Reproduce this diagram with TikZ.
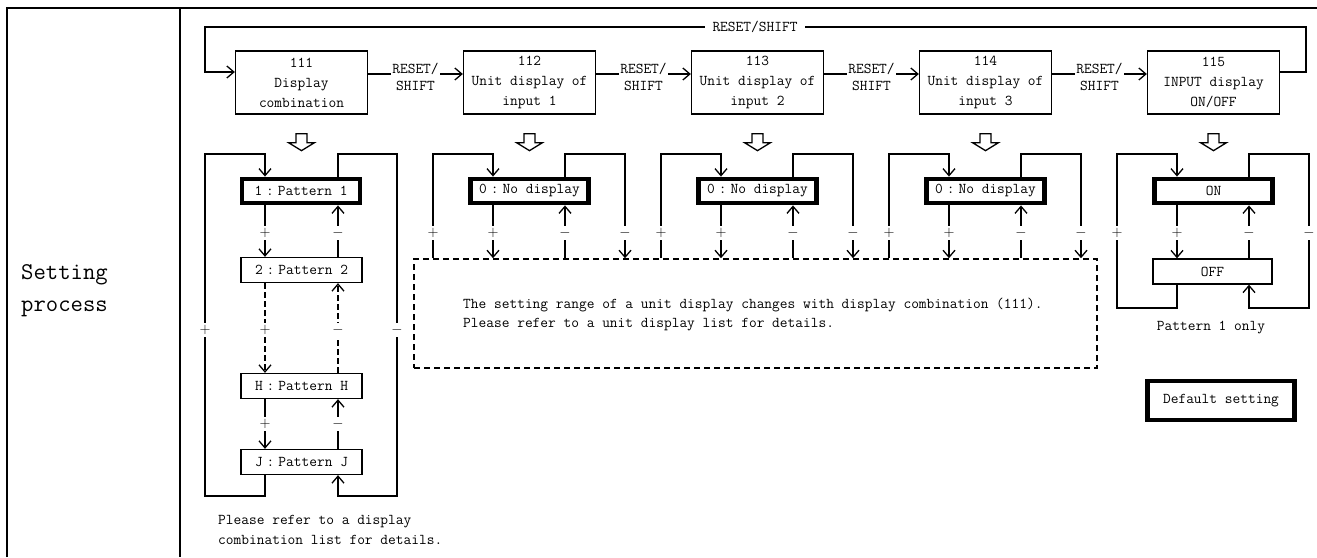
\documentclass[tikz,border=0pt]{standalone}
\usepackage{fontspec}
\usetikzlibrary{arrows.meta}
\newcommand{\fcolon}{\makebox[1.05em]{:}}
\tikzset{
  x=1pt, y=-1pt,
  every node/.style={font=\ttfamily\fontsize{15}{20}\selectfont, text=black},
  topbox/.style={draw, line width=1.3pt, minimum width=132pt, minimum height=63pt, align=center, inner sep=0pt},
  thickbox/.style={draw, line width=4.8pt, minimum width=118pt, minimum height=24pt, inner sep=0pt},
  thinbox/.style={draw, line width=1.3pt, minimum width=121pt, minimum height=25pt, inner sep=0pt},
  notebox/.style={draw, line width=1.6pt, dash pattern=on 6pt off 4pt, minimum width=683pt, minimum height=109pt, inner sep=0pt},
  ln/.style={line width=1.3pt},
  arr/.style={ln, -{Straight Barb[length=7pt,width=12pt,line width=1.3pt]}},
  dsh/.style={dash pattern=on 6pt off 3pt},
  lab/.style={fill=white, inner sep=2pt},
  hollow/.style={draw, line width=1.3pt, line join=miter},
  frame/.style={line width=2.6pt}
}
\begin{document}
\begin{tikzpicture}
\useasboundingbox (0,0) rectangle (1317,557);
\fill[white] (0,0) rectangle (1317,557);
% frame
\draw[frame] (7,557) -- (7,8) -- (1317,8);
\draw[frame] (180,8) -- (180,557);
\node[anchor=west, align=left, inner sep=0pt, font=\ttfamily\fontsize{24}{32}\selectfont] (sp) at (21,291) {Setting\\process};

% top row
\node[topbox] (t1) at (301.5,82.5) {111\\Display\\combination};
\node[topbox] (t2) at (529.5,82.5) {112\\Unit display of\\input 1};
\node[topbox] (t3) at (757.5,82.5) {113\\Unit display of\\input 2};
\node[topbox] (t4) at (985.5,82.5) {114\\Unit display of\\input 3};
\node[topbox] (t5) at (1213.5,82.5) {115\\INPUT display\\ON/OFF};
\foreach \a/\b in {t1/t2,t2/t3,t3/t4,t4/t5}{
  \draw[arr] ([yshift=8.5pt]\a.east) -- ([yshift=8.5pt]\b.west)
     node[midway, lab, inner sep=1pt, yshift=-2.5pt, align=center, font=\ttfamily\fontsize{15}{17}\selectfont] {RESET/\\SHIFT};
}
\coordinate (lr) at (1306,27);
\coordinate (ll) at (205,27);
\draw[arr] ([yshift=10.5pt]t5.east) -| (lr) -- (ll) |- ([yshift=10.5pt]t1.west);
\node[lab, inner xsep=8pt] (rs) at (755,27) {RESET/SHIFT};

% hollow arrows
\foreach \k in {1,...,5}{
  \draw[hollow, shift={(t\k.south)}] (-5.5,19) -- (5.5,19) -- (5.5,28) -- (13,28) -- (0,36) -- (-13,28) -- (-5.5,28) -- cycle;
}

% note box
\node[notebox] (note) at (755.5,313.5) {};
\node[anchor=west, inner sep=0pt] (note1) at (463,305) {The setting range of a unit display changes with display combination (111).};
\node[anchor=west, inner sep=0pt] (note2) at (463,325) {Please refer to a unit display list for details.};

% pattern column
\node[thickbox] (p1) at (301,191) {1\fcolon Pattern 1};
\node[thinbox] (p2) at (301.5,270) {2\fcolon Pattern 2};
\node[thinbox] (pH) at (301.5,386) {H\fcolon Pattern H};
\node[thinbox] (pJ) at (301.5,462) {J\fcolon Pattern J};
\coordinate (L0) at (205,154); \coordinate (I0) at (265,154);
\coordinate (U0) at (338,154); \coordinate (R0) at (397,154);
\coordinate (LB) at (205,496); \coordinate (IB) at (265,496);
\coordinate (UB) at (338,496); \coordinate (RB) at (397,496);
\draw[arr] (pJ.south -| IB) -- (IB) -- (LB) -- (L0) -- (I0) -- (p1.north -| I0);
\draw[arr] (p1.north -| U0) -- (U0) -- (R0) -- (RB) -- (UB) -- (pJ.south -| UB);
\draw[arr] (p1.south -| I0) -- (p2.north -| I0);
\draw[arr] (p2.north -| U0) -- (p1.south -| U0);
\draw[arr, dsh] (p2.south -| I0) -- (pH.north -| I0);
\draw[arr, dsh] (pH.north -| U0) -- (p2.south -| U0);
\draw[arr] (pH.south -| I0) -- (pJ.north -| I0);
\draw[arr] (pJ.north -| U0) -- (pH.south -| U0);
\path (L0) ++(0,176) node[lab] {$+$};
\path (I0) ++(0,79) node[lab] {$+$};
\path (I0) ++(0,176) node[lab] {$+$};
\path (I0) ++(0,270) node[lab] {$+$};
\path (U0) ++(0,79) node[lab] {$-$};
\path (U0) ++(0,176) node[lab] {$-$};
\path (U0) ++(0,270) node[lab] {$-$};
\path (R0) ++(0,176) node[lab] {$-$};
\node[anchor=west, align=left, inner sep=0pt] (pref) at (218,530) {Please refer to a display\\combination list for details.};

% unit display groups
\foreach \k/\c in {2/530,3/758,4/986}{
  \node[thickbox] (b\k) at (\c-0.5,191) {0\fcolon No display};
  \coordinate (L\k) at (\c-97,154); \coordinate (I\k) at (\c-37,154);
  \coordinate (U\k) at (\c+35,154); \coordinate (R\k) at (\c+95,154);
  \draw[arr] (note.north -| L\k) -- (L\k) -- (I\k) -- (b\k.north -| I\k);
  \draw[arr] (b\k.north -| U\k) -- (U\k) -- (R\k) -- (note.north -| R\k);
  \draw[arr] (b\k.south -| I\k) -- (note.north -| I\k);
  \draw[arr] (note.north -| U\k) -- (b\k.south -| U\k);
  \path (L\k) ++(0,79) node[lab] {$+$};
  \path (I\k) ++(0,79) node[lab] {$+$};
  \path (U\k) ++(0,79) node[lab] {$-$};
  \path (R\k) ++(0,79) node[lab] {$-$};
}

% INPUT ON/OFF group
\node[thickbox] (on) at (1213.5,191) {ON};
\node[thinbox, minimum width=119pt] (off) at (1212.5,271.5) {OFF};
\coordinate (L5) at (1117,154); \coordinate (I5) at (1177,154);
\coordinate (U5) at (1249,154); \coordinate (R5) at (1309,154);
\coordinate (LB5) at (1117,308); \coordinate (IB5) at (1177,308);
\coordinate (UB5) at (1249,308); \coordinate (RB5) at (1309,308);
\draw[arr] (off.south -| IB5) -- (IB5) -- (LB5) -- (L5) -- (I5) -- (on.north -| I5);
\draw[arr] (on.north -| U5) -- (U5) -- (R5) -- (RB5) -- (UB5) -- (off.south -| UB5);
\draw[arr] (on.south -| I5) -- (off.north -| I5);
\draw[arr] (off.north -| U5) -- (on.south -| U5);
\path (L5) ++(0,79) node[lab] {$+$};
\path (I5) ++(0,79) node[lab] {$+$};
\path (U5) ++(0,79) node[lab] {$-$};
\path (R5) ++(0,79) node[lab] {$-$};
\node (p1only) at (1211,328) {Pattern 1 only};

\node[thickbox, minimum width=147pt, minimum height=39pt] (def) at (1221,400.5) {Default setting};
\end{tikzpicture}
\end{document}
